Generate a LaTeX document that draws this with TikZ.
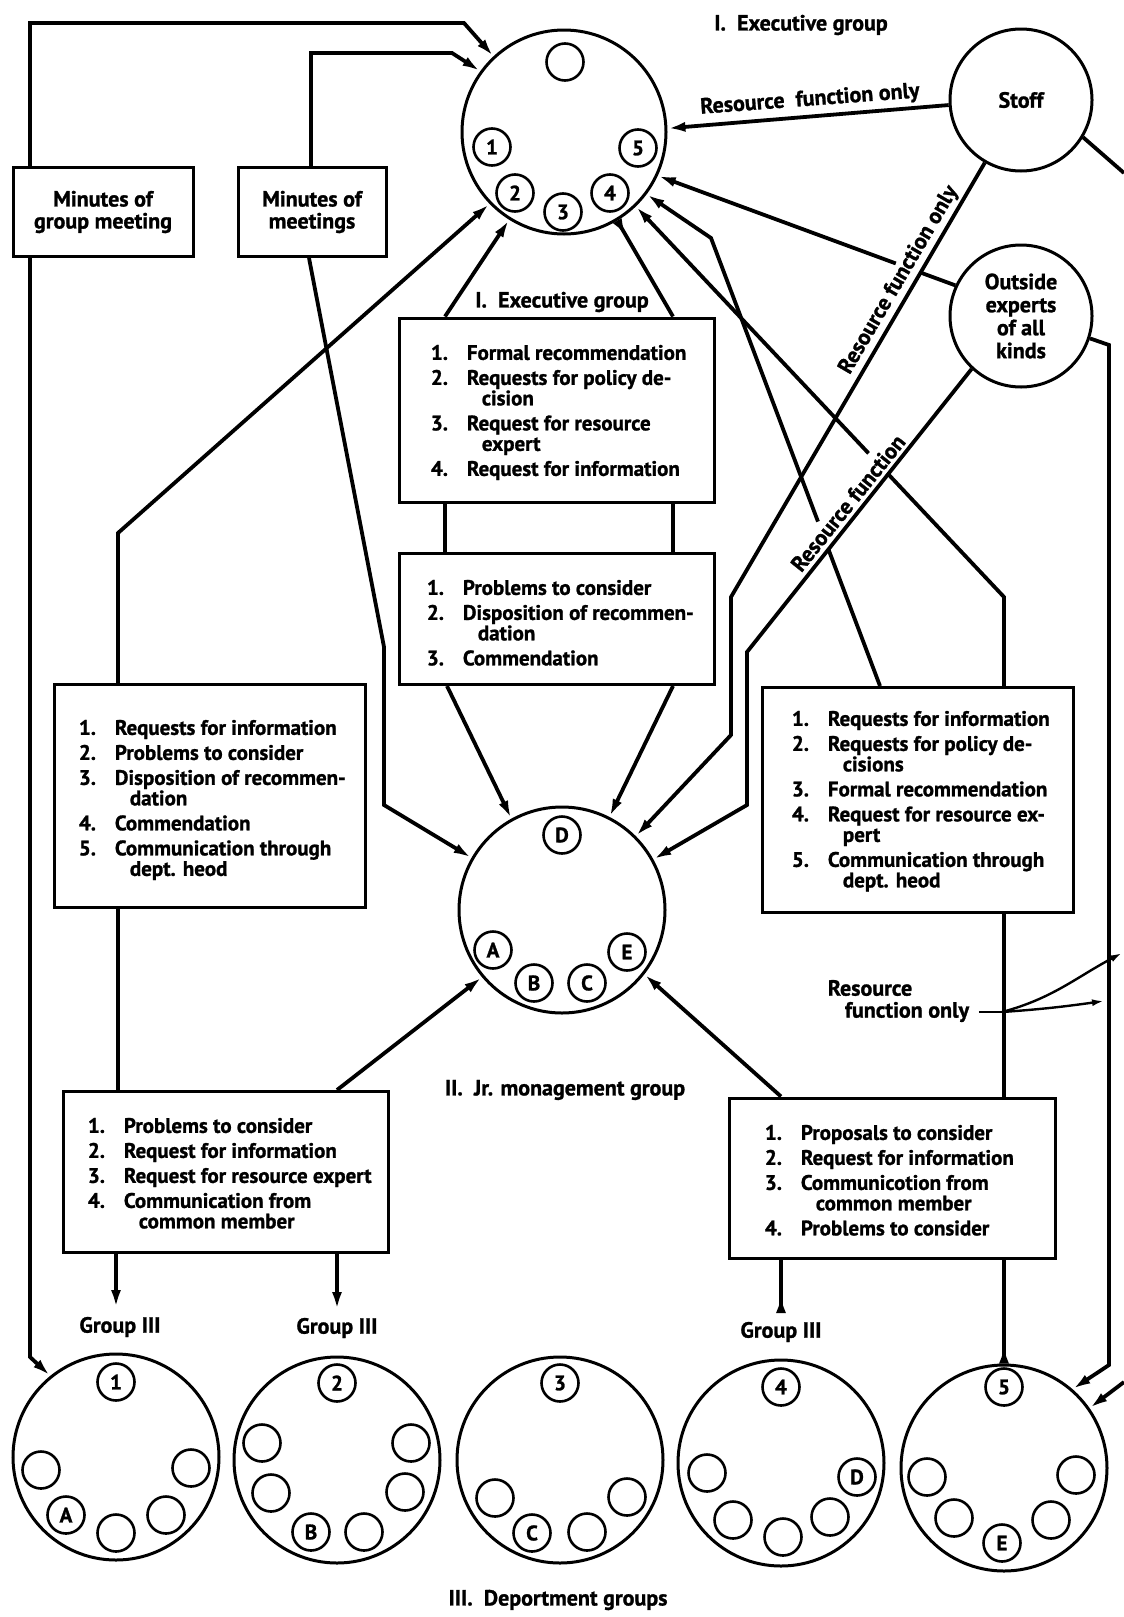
\documentclass[tikz,border=0pt]{standalone}
\usepackage{fontspec}
\setmainfont{PT Sans}[BoldFeatures={FakeBold=1.2}]
\usetikzlibrary{arrows.meta,calc}
\newcommand{\li}[2]{\makebox[36pt][l]{#1}#2}
\newcommand{\lc}[1]{\hspace*{51pt}#1}
\begin{document}
\begin{tikzpicture}[x=1pt,y=-1pt,font=\bfseries\fontsize{21}{20.5}\selectfont,line width=3.8pt,
    >={Latex[length=18pt,width=10pt]},
    grp/.style={draw,circle,line width=3pt,inner sep=0pt,minimum size=#1},
    mem/.style={draw,circle,line width=2.6pt,inner sep=0pt,minimum size=37pt,font=\bfseries\fontsize{21}{21}\selectfont},
    lbox/.style={draw,line width=3pt,inner sep=0pt},
    ltext/.style={anchor=north west,align=left,inner sep=0pt},
    rev/.style={-{Latex[reversed,length=18pt,width=10pt]}},
    ttl/.style={inner sep=0pt,font=\bfseries\fontsize{22}{22}\selectfont},
    thin/.style={line width=2.4pt,>={Latex[length=12pt,width=7pt]}}]
  \fill[white] (0,0) rectangle (1124,1617);
  \useasboundingbox (0,0) rectangle (1124,1617);

  % circles
  \node[grp=204pt] (exec) at (564,132) {};
  \node[grp=142pt,font=\bfseries\fontsize{22}{23}\selectfont] (stoff) at (1021,100) {Stoff};
  \node[grp=142pt,align=center,font=\bfseries\fontsize{22}{23}\selectfont] (outx) at (1021,316) {Outside\\experts\\of all\\kinds};
  \node[grp=206pt] (jr) at (562,910) {};
  \foreach \g/\cx/\cy in {1/116/1457,2/337/1460,3/560/1460,4/781/1463,5/1004/1468}
    \node[grp=206pt] (dg\g) at (\cx,\cy) {};

  \foreach \dx/\dy/\lab [count=\i] in {1/-70/{},-72/15/1,-49/61/2,-1/80/3,46/61/4,74/16/5}
    \node[mem] (ex\i) at ($(exec)+(\dx,\dy)$) {\lab};
  \foreach \dx/\dy/\lab [count=\i] in {0/-75/D,-69/40/A,-28/73/B,25/73/C,65/42/E}
    \node[mem] (jm\i) at ($(jr)+(\dx,\dy)$) {\lab};
  \foreach \dx/\dy/\lab [count=\i] in {0/-75/1,-75/13/{},-50/58/A,0/76/{},50/58/{},75/11/{}}
    \node[mem] (da\i) at ($(dg1)+(\dx,\dy)$) {\lab};
  \foreach \dx/\dy/\lab [count=\i] in {0/-77/2,-75/-17/{},-66/33/{},-26/72/B,27/72/{},68/32/{},74/-17/{}}
    \node[mem] (db\i) at ($(dg2)+(\dx,\dy)$) {\lab};
  \foreach \dx/\dy/\lab [count=\i] in {0/-77/3,-65/38/{},-28/73/C,27/72/{},67/37/{}}
    \node[mem] (dc\i) at ($(dg3)+(\dx,\dy)$) {\lab};
  \foreach \dx/\dy/\lab [count=\i] in {0/-76/4,-74/10/{},-48/57/{},2/74/{},49/54/{},76/14/D}
    \node[mem] (dd\i) at ($(dg4)+(\dx,\dy)$) {\lab};
  \foreach \dx/\dy/\lab [count=\i] in {0/-81/5,-77/9/{},-50/50/{},-2/75/E,47/52/{},72/7/{}}
    \node[mem] (de\i) at ($(dg5)+(\dx,\dy)$) {\lab};

  % boxes
  \node[lbox,minimum width=180pt,minimum height=89pt,align=center,font=\bfseries\fontsize{22}{22}\selectfont] (mgm) at (103,212) {Minutes of\\group meeting};
  \node[lbox,minimum width=148pt,minimum height=89pt,align=center,font=\bfseries\fontsize{22}{22}\selectfont] (mmt) at (312,212) {Minutes of\\meetings};
  \node[lbox,minimum width=315pt,minimum height=184pt] (xbox) at (557,410) {};
  \node[lbox,minimum width=315pt,minimum height=131pt] (pbox) at (557,619) {};
  \node[lbox,minimum width=311pt,minimum height=223pt] (lreq) at (210,796) {};
  \node[lbox,minimum width=325pt,minimum height=161pt] (lprob) at (226,1172) {};
  \node[lbox,minimum width=311pt,minimum height=225pt] (rreq) at (918,800) {};
  \node[lbox,minimum width=326pt,minimum height=160pt] (rprop) at (892,1178) {};

  \node[ltext] (xtxt) at (429,343) {\li{1.}{Formal recommendation}\\[4.5pt]\li{2.}{Requests for policy de-}\\\lc{cision}\\[4.5pt]\li{3.}{Request for resource}\\\lc{expert}\\[4.5pt]\li{4.}{Request for information}};
  \node[ltext] (ptxt) at (425,578) {\li{1.}{Problems to consider}\\[4.5pt]\li{2.}{Disposition of recommen-}\\\lc{dation}\\[4.5pt]\li{3.}{Commendation}};
  \node[ltext] (ltxt) at (77,718) {\li{1.}{Requests for information}\\[4.5pt]\li{2.}{Problems to consider}\\[4.5pt]\li{3.}{Disposition of recommen-}\\\lc{dation}\\[4.5pt]\li{4.}{Commendation}\\[4.5pt]\li{5.}{Communication through}\\\lc{dept. heod}};
  \node[ltext] (lptxt) at (86,1116) {\li{1.}{Problems to consider}\\[4.5pt]\li{2.}{Request for information}\\[4.5pt]\li{3.}{Request for resource expert}\\[4.5pt]\li{4.}{Communication from}\\\lc{common member}};
  \node[ltext] (rtxt) at (790,709) {\li{1.}{Requests for information}\\[4.5pt]\li{2.}{Requests for policy de-}\\\lc{cisions}\\[4.5pt]\li{3.}{Formal recommendation}\\[4.5pt]\li{4.}{Request for resource ex-}\\\lc{pert}\\[4.5pt]\li{5.}{Communication through}\\\lc{dept. heod}};
  \node[ltext] (rptxt) at (763,1123) {\li{1.}{Proposals to consider}\\[4.5pt]\li{2.}{Request for information}\\[4.5pt]\li{3.}{Communicotion from}\\\lc{common member}\\[4.5pt]\li{4.}{Problems to consider}};

  % titles
  \node[ttl] (t1) at (801,25) {I.\ \ Executive group};
  \node[ttl] (t1b) at (562,302) {I.\ \ Executive group};
  \node[ttl] (t2) at (565,1090) {II.\ \ Jr. monagement group};
  \node[ttl] (t3) at (558,1600) {III.\ \ Deportment groups};
  \node[ttl] (gl1) at (120,1327) {Group III};
  \node[ttl] (gl2) at (337,1328) {Group III};
  \node[ttl] (gl4) at (781,1332) {Group III};

  % minutes
  \draw[->] (mgm.north -| 30,0) -- (30,23) -- (464,23) -- (exec.133.8);
  \draw[->] (mgm.south -| 30,0) -- (30,1357) -- (dg1.129.8);
  \draw[->] (mmt.north -| 311,0) -- (311,53) -- (452,53) -- (exec.144.9);
  \draw[->] (mmt.south -| 309,0) -- (384,647) -- (384,805) -- (jr.150.9);

  % left side
  \draw[->] (lreq.north -| 118,0) -- (118,533) -- (exec.224.6);
  \draw (lreq.south -| 118,0) -- (lprob.north -| 118,0);
  \draw[->] (lprob.north -| 337,0) -- (jr.220.5);
  \draw[->] (lprob.south -| 116,0) -- (116,1308);
  \draw[->] (lprob.south -| 337,0) -- (337,1310);

  % executive boxes
  \draw[->] (xbox.north -| 445,0) -- (exec.238.9);
  \draw[rev] (xbox.north -| 673,0) -- (exec.301.4);
  \draw (xbox.south -| 445,0) -- (pbox.north -| 445,0);
  \draw (xbox.south -| 673,0) -- (pbox.north -| 673,0);
  \draw[->] (pbox.south -| 447,0) -- (jr.119);
  \draw[->] (pbox.south -| 673,0) -- (jr.63.4);

  % staff, outside experts
  \coordinate (offs) at (1124,173); \coordinate (offr) at (1124,1382);
  \draw[->] (stoff.184) -- (exec.2.2);
  \draw[->] (stoff.240.4) -- (731,597) -- (731,735) -- (jr.45.8);
  \draw (stoff.-31.9) -- (offs);
  \draw (outx.155.2) -- ($(outx.155.2)!0.116!(exec.-25.4)$);
  \draw[->] ($(outx.155.2)!0.2!(exec.-25.4)$) -- (exec.-25.4);
  \draw[->] (outx.227.3) -- (747,652) -- (747,805) -- (jr.29.7);
  \draw[->] (outx.-18.7) -- (1109,345) -- (1109,1365) -- (dg5.49.2);
  \draw[->] (offr) -- (dg5.35.9);
  \node[ttl,rotate=4.3] (rfo1) at (810,100) {Resource\ \ function only};
  \node[ttl,rotate=59.6] (rfo2) at (899,280) {Resource function only};
  \node[ttl,rotate=51.2] (rf3) at (848,503) {Resource function};

  % right side
  \coordinate (k1) at (711,238); \coordinate (r1) at (rreq.north -| 880,0);
  \draw (r1) -- ($(r1)!0.305!(k1)$);
  \draw[->] ($(r1)!0.367!(k1)$) -- (k1) -- (exec.-37.4);
  \coordinate (k2) at (1004,597);
  \draw (rreq.north -| k2) -- (k2) -- ($(k2)!0.312!(exec.-46.4)$);
  \draw[->] ($(k2)!0.368!(exec.-46.4)$) -- (exec.-46.4);
  \draw (rreq.south -| k2) -- (rprop.north -| k2);
  \draw[rev] (rprop.south -| k2) -- (dg5.north);
  \draw[->] (rprop.north -| 781,0) -- (jr.-38.9);
  \draw[rev] (rprop.south -| 781,0) -- (781,1313);

  % resource function only (right)
  \node[ttl] (rs) at (870,988) {Resource};
  \node[ttl] (fo) at (907,1012) {function only};
  \coordinate (fork) at (1002,1012); \coordinate (edg) at (1122,953); \coordinate (vl) at (1104,1001);
  \draw[thin] ([xshift=8pt]fo.east) -- (fork);
  \draw[thin,->] (fork) to[out=15,in=208] (edg);
  \draw[thin,->] (fork) to[out=4,in=188] (vl);
\end{tikzpicture}
\end{document}
